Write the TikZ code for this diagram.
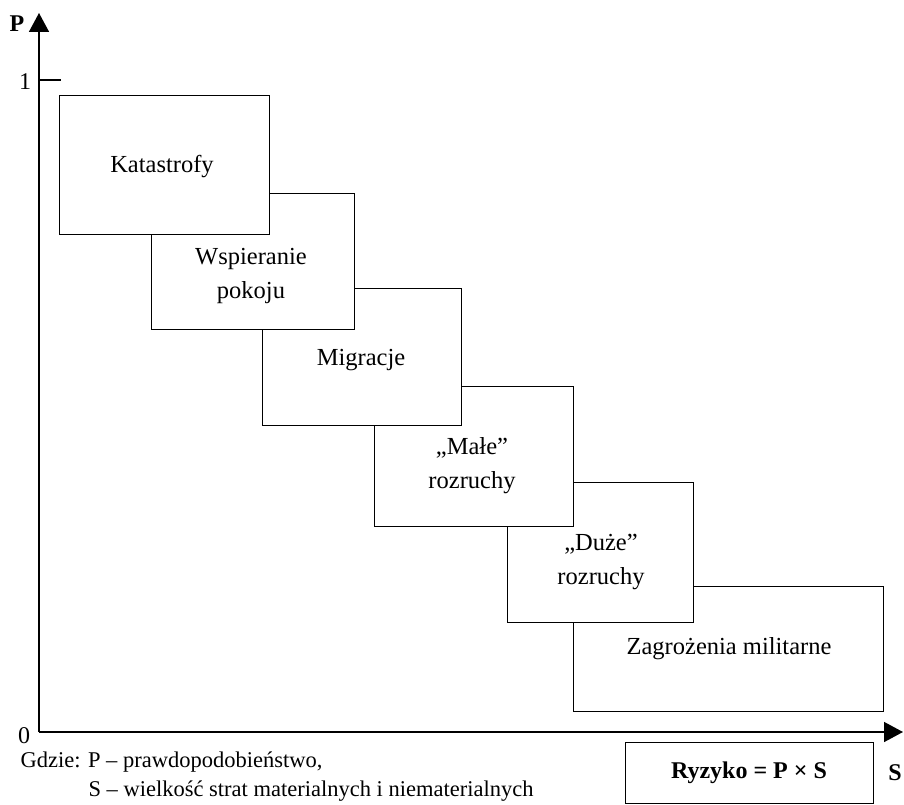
\documentclass[tikz,border=0pt]{standalone}
\usepackage{fontspec}
\setmainfont{Liberation Serif}
\usetikzlibrary{arrows.meta,positioning}

\tikzset{
  riskbox/.style={draw, thick, fill=white, inner sep=0pt},
  boxtext/.style={align=center, font=\fontsize{24.5}{34}\selectfont},
  axistext/.style={font=\fontsize{24}{30}\selectfont},
  legtext/.style={anchor=west, inner sep=0pt, font=\fontsize{22.5}{28}\selectfont},
}

\begin{document}
\begin{tikzpicture}[x=1pt,y=-1pt,line width=1.2pt]
                \useasboundingbox (0,0) rectangle (904,805);

                \coordinate (O) at (39,732);
                \coordinate (Ptip) at (39,13);
                \coordinate (Stip) at (903,732);

                % axes
                \draw[line width=1.5pt, -{Triangle[length=19pt,width=20pt]}] (O)--(Ptip);
                \draw[line width=1.5pt, -{Triangle[length=19pt,width=20pt]}] (O)--(Stip);
                \draw (39,80)--(61,80);

                \node[axistext] (one) at (25,82) {1};
                \node[axistext] (zero) at (24,736) {0};
                \node[axistext, font=\fontsize{24}{30}\bfseries] (P) at (17,24) {P};
                \node[axistext, font=\fontsize{24}{30}\bfseries] (S) at (895,773) {S};

                % boxes, back to front
                \node[riskbox, minimum width=310pt, minimum height=125pt] (zag) at (728,648.5) {};
                \node[riskbox, minimum width=186pt, minimum height=140pt] (duze) at (600,552) {};
                \node[riskbox, minimum width=199pt, minimum height=140pt] (male) at (473.5,456) {};
                \node[riskbox, minimum width=199pt, minimum height=137pt] (mig) at (361.5,356.5) {};
                \node[riskbox, minimum width=203pt, minimum height=136pt] (wsp) at (252.5,261) {};
                \node[riskbox, minimum width=210pt, minimum height=139pt] (kat) at (164,164.5) {};

                \node[boxtext] (katT) at (162,167) {Katastrofy};
                \node[boxtext] (wspT) at (251,276) {Wspieranie\\pokoju};
                \node[boxtext] (migT) at (361,360) {Migracje};
                \node[boxtext] (maleT) at (472,466) {„Małe”\\rozruchy};
                \node[boxtext] (duzeT) at (601,562) {„Duże”\\rozruchy};
                \node[boxtext] (zagT) at (729,649) {Zagrożenia militarne};

                % formula
                \node[riskbox, minimum width=248pt, minimum height=61pt,
                      font=\fontsize{24}{30}\bfseries] (ryz) at (749,772.5) {Ryzyko = P × S};

                % legend
                \node[legtext] (leg1) at (20,762) {Gdzie: P – prawdopodobieństwo,};
                \node[legtext] (leg2) at (88,791) {S – wielkość strat materialnych i niematerialnych};
             \end{tikzpicture}
\end{document}
